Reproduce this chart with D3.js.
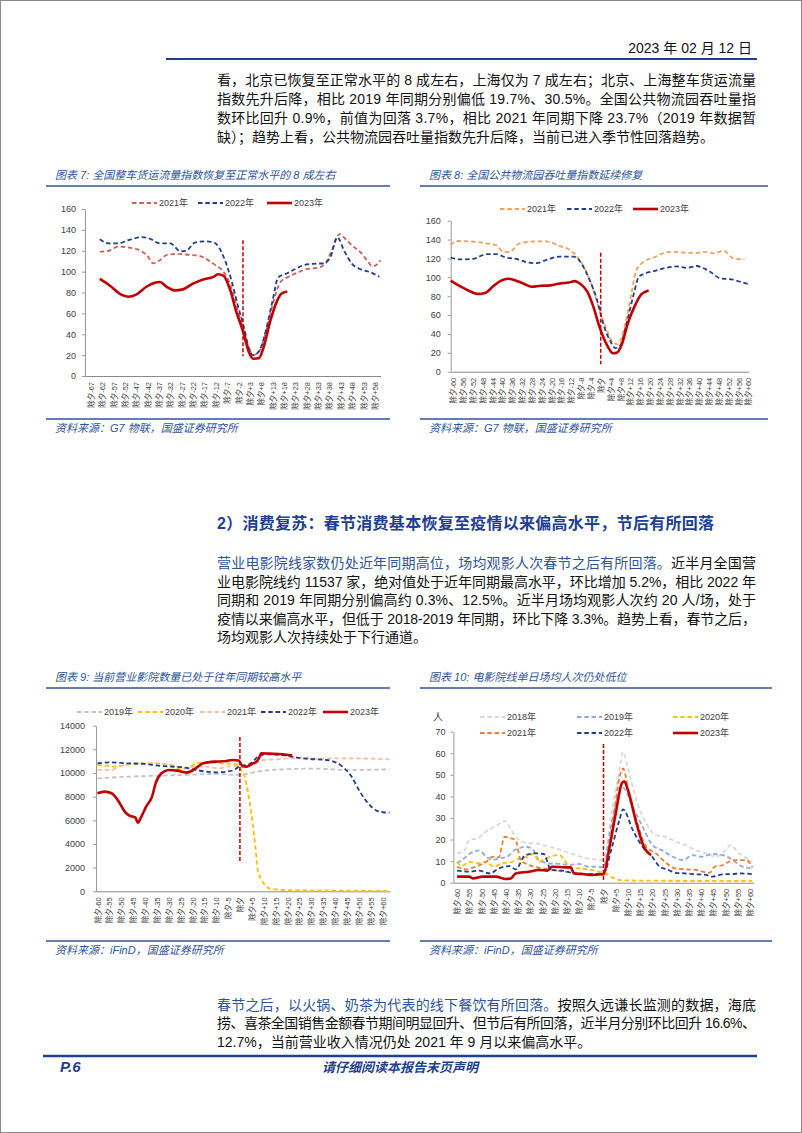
<!DOCTYPE html>
<html><head><meta charset="utf-8">
<script src="https://cdn.jsdelivr.net/npm/d3@7"></script>
<style>html,body{margin:0;padding:0;background:#fff}svg{display:block}text{white-space:pre}</style>
</head><body>
<svg id="page" width="802" height="1133"></svg>
<script>
// ================= DATA =================
// Chart 7: 全国整车货运流量指数 (days relative to 除夕)
const c7Labels = ["除夕-67","除夕-62","除夕-57","除夕-52","除夕-47","除夕-42","除夕-37","除夕-32","除夕-27","除夕-22","除夕-17","除夕-12","除夕-7","除夕-2","除夕+3","除夕+8","除夕+13","除夕+18","除夕+23","除夕+28","除夕+33","除夕+38","除夕+43","除夕+48","除夕+53","除夕+58"];
const c7YTicks = [0,20,40,60,80,100,120,140,160];
const c7Days2021 = [-63,-59,-55,-50,-45,-42,-39.5,-36.5,-33.5,-29,-23,-20,-16,-12,-9,-6,-3,0,2.5,4.5,7.5,10.5,13.5,16.5,19.5,24,28,32.5,36,39,42.5,45,48,51.5,54.5,57,59,60.5];
const c7Vals2021 = [119,120,124,123,120,115,108,111,116,117,116,115.5,112,106,101,90,69,46,28,20,25,46,72,90,94.5,99,102.5,103.5,107,120,136,131.5,125,119,111,105,107,111];
const c7Days2022 = [-63,-59,-55,-50,-44.5,-41,-36.5,-32,-27.5,-25,-21,-16.5,-12.5,-8.5,-5,-2,0.5,2.5,4.5,7,10,13,15.5,19.5,23,26.5,31,35.5,38.5,41.5,44.5,48,51.5,56,60];
const c7Vals2022 = [131,127,127,130.5,133,131.5,127,127,119.5,120,128,129,127.5,114,91,65.5,46,27,20,23.5,43,72,94.5,98.5,102.5,106,107.5,108,114,133,120,107.5,102.5,99.5,95];
const c7Days2023 = [-63,-58.5,-54,-50.5,-47,-42.5,-38.5,-36.5,-33.5,-30,-26.5,-22,-17.5,-13,-11,-8.5,-5.5,-3,0,2.5,4.5,7,9,12,15,17,19.5];
const c7Vals2023 = [93,86.5,78.5,76,78,85.5,89.5,90,85.5,82,83,88.5,92.5,95,97.5,96,81.5,62,43,23.5,16.5,17,27,52.5,72,79,81];
const c7Marker = [130, 19];

// Chart 8: 全国公共物流园吞吐量指数
const c8Labels = ["除夕-60","除夕-56","除夕-52","除夕-48","除夕-44","除夕-40","除夕-36","除夕-32","除夕-28","除夕-24","除夕-20","除夕-16","除夕-12","除夕-8","除夕-4","除夕","除夕+4","除夕+8","除夕+12","除夕+16","除夕+20","除夕+24","除夕+28","除夕+32","除夕+36","除夕+40","除夕+44","除夕+48","除夕+52","除夕+56","除夕+60"];
const c8YTicks = [0,20,40,60,80,100,120,140,160];
const c8Days2021 = [-61,-58.5,-53,-46.5,-42.5,-39.5,-37,-33,-26,-22,-16.5,-12.5,-9,-5.5,-3,-0.5,2.5,5,7,10,12.5,14.5,17.5,21.5,25.5,29.5,35,39,43,46,50,54,58.5];
const c8Vals2021 = [134,138.5,138,136,134,127,127,136,138,138,133,129,120,104,86.5,65.5,44,31,29,51,83,107.5,116.5,121,125.5,127,126,126,127,125.5,128,120,119];
const c8Days2022 = [-61,-57.5,-52,-46.5,-42.5,-38.5,-34.5,-30,-26,-22,-16.5,-11,-7,-4.5,-1.5,1,4,6,8,10.5,13.5,15.5,18,21.5,25.5,31,35,39,41.5,44.5,48.5,52.5,56.5,60];
const c8Vals2022 = [121,119,119.5,124.5,124.5,121,119.5,116,115,118.5,122,122,111,97,76,51,32,25,28,51,83,100.5,104,106.5,109.5,111.5,110,112,110,106,99,98,95.5,93];
const c8Days2023 = [-61,-57.5,-53,-50,-47,-43.5,-40.5,-37.5,-35,-31.5,-28,-24.5,-20.5,-16.5,-13,-10.5,-8.5,-5.5,-3,-0.5,2.5,5,6.5,8.5,11,14,16.5,19.5];
const c8Vals2023 = [96.5,91,85,82.5,83.5,91,96.5,98.5,97,93.5,90,91,91.5,93.5,94.5,96,93.5,85,69,47.5,28.5,19.5,20,28.5,51,70.5,82,86];
const c8Marker = [126, 8];

// Chart 9: 营业影院数量
const c9Labels = ["除夕-60","除夕-55","除夕-50","除夕-45","除夕-40","除夕-35","除夕-30","除夕-25","除夕-20","除夕-15","除夕-10","除夕-5","除夕","除夕+5","除夕+10","除夕+15","除夕+20","除夕+25","除夕+30","除夕+35","除夕+40","除夕+45","除夕+50","除夕+55","除夕+60"];
const c9YTicks = [0,2000,4000,6000,8000,10000,12000,14000];
const c9Days2019 = [-60,-52,-38,-24,-10,0,4,9,18,32,46,63];
const c9Vals2019 = [9550,9640,9750,9830,9920,9830,9980,10170,10310,10370,10260,10310];
const c9Days2020 = [-60,-56,-52,-48,-42,-35,-29,-25,-21,-17,-12,-7,-1.5,0.5,2,3.5,5,6.5,7.5,10,12.5,18,32,63];
const c9Vals2020 = [10680,10600,10540,10680,10820,10820,10540,10310,10540,10880,10880,10820,10740,10260,9700,8290,6310,3780,1800,680,250,110,60,40];
const c9Days2021 = [-60,-54,-50.5,-45.5,-38,-31,-26.5,-22.5,-18,-14,-8.5,-3,1.5,5.5,10,15.5,25,32,46,63];
const c9Vals2021 = [10260,10260,10600,10770,10820,10770,10540,10400,10600,10540,10400,10600,10480,10680,11100,11160,11300,11220,11240,11160];
const c9Days2022 = [-60,-54.5,-47.5,-40.5,-33.5,-28,-24,-19.5,-15.5,-10,-5.5,-2,0,3,5.5,7.5,11,18,24,29.5,36.5,40.5,44,47,50.5,54,57.5,60.5,63];
const c9Vals2022 = [10820,10900,10820,10770,10600,10540,10480,10310,10150,10060,10120,10310,10600,10680,10960,11380,11580,11520,11300,11190,11100,10880,10400,9700,8430,7440,6820,6680,6650];
const c9Days2023 = [-60,-57,-54,-51,-48.5,-46.5,-44,-43,-41.5,-39.5,-37,-35.5,-33,-30,-26.5,-22.5,-19.5,-15.5,-11,-7,-3,-0.5,1,3,5,7,8,9,12.5,18,22];
const c9Vals2023 = [8290,8430,8290,7580,6740,6400,6230,5800,6310,7160,8000,9130,9980,10260,10200,10030,10260,10820,10960,10990,11100,11050,10600,10540,10770,10960,11240,11670,11640,11580,11470];
const c9Marker = [13040, 2390];

// Chart 10: 电影院线单日场均人次
const c10Labels = c9Labels.slice();
const c10YTicks = [0,10,20,30,40,50,60,70];
const c10Days2018 = [-60,-57,-55,-51.5,-49,-46,-43.5,-40.5,-38.5,-36.5,-34.5,-32,-27.5,-23.5,-19.5,-15.5,-11.5,-7,-3,0,3.5,6.5,8,10.5,13.5,17.5,21.5,25.5,29.5,33.5,38,42,46,50,52,55.5,59.5,61];
const c10Vals2018 = [13.6,15,19.8,20.6,23,25.2,26.7,28.7,26,22,19.8,18.5,18.2,17,16,14.4,12.8,11.3,10.8,10.5,33.7,52,60.5,50.7,38.3,27.5,22,21.3,19,17.5,15,13.6,12,15,17.5,13.6,10.8,9.7];
const c10Days2019 = [-60,-58,-55,-51,-48,-45.5,-43,-39.5,-36.5,-34.5,-32,-29,-26.5,-22.5,-18,-14,-10,-6,-2,0,3,6.5,8,12,16,20,24,28.5,32.5,36.5,40.5,44.5,49,53,57,61];
const c10Vals2019 = [9,10.5,13.3,15,12,10.5,11.3,12,15,16,16.7,15.5,10.5,9,8.7,8.2,8.7,7.4,7.4,7.1,26,42,44,35,26,17.5,15,12,10.5,12.8,12,13.3,12.8,10.5,7.4,6.6];
const c10Days2020 = [-60,-58,-55,-51.5,-48,-45,-41.5,-37.5,-34.5,-31,-28.5,-26.5,-23.5,-21,-18,-16,-14,-10,-6,-2,1,3.5,6.5,13,61];
const c10Vals2020 = [9.7,7.7,9.7,9,9.7,7.4,9,9.7,11.3,12,13.6,9.7,11.3,12.4,12.8,10.5,7.1,6.6,6.2,5.1,4.3,2.5,1.2,1,0.8];
const c10Days2021 = [-60,-56.5,-52.5,-48,-45.5,-43,-40.5,-38,-36,-34,-30.5,-25,-21,-15.5,-10,-4.5,0,3.5,7,8,10.5,13.5,17.5,21.5,25.5,29.5,33.5,38,40.5,43.5,45.5,49,51.5,54,58.5,61];
const c10Vals2021 = [7.4,6.2,7.4,9.7,12,11.7,21.3,20.6,19.8,10.5,8.2,6.6,5.9,5.1,4.3,3.6,3.6,26,50.7,53,41.4,29,16.7,13.6,9.3,6.6,6.2,5.9,5.1,4.6,7.4,8.2,9.7,10.5,10.5,7.1];
const c10Days2022 = [-60,-55,-51,-46.5,-43,-38.5,-36,-32,-27.5,-24.5,-21.5,-17,-11.5,-6,0,3.5,6.5,8,12,16,20,23,26,29.5,33.5,38,42,44.5,49,53,55.5,61];
const c10Vals2022 = [5.6,5.1,5.6,4.3,6.6,7.7,6.2,12.8,13.6,13.3,5.9,5.6,4.3,4,4.3,16.7,29,34,24.4,16.7,12,7.4,6.2,4.6,4.3,3.9,3.6,2.8,3.9,4,4.3,4];
const c10Days2023 = [-60,-55,-53.5,-49.5,-44,-40,-38,-36,-30.5,-26.5,-23,-21,-15.5,-13.5,-12,-8.5,-4.5,-1,0,2.5,5,7.5,8.5,10,13.5,16.5,19.5];
const c10Vals2023 = [2.8,2.8,2,2.8,2.8,1.7,2,4.3,5.1,5.9,5.6,7.4,7.1,7.1,4.3,4,3.6,3.9,4,16.7,32,46,47,43,27.5,16.7,12.8];
const c10Marker = [64.3, 0.5];

// ================= STYLE =================
const FONT = "'Liberation Sans','Noto Sans CJK SC',sans-serif";
const NAVY = "#1F3F8F";
const TBLUE = "#2F5597";
const RED = "#C00000";
const DARK = "#203E8C";

const svg = d3.select("#page");
svg.append("rect").attr("x",0.5).attr("y",0.5).attr("width",801).attr("height",1132).attr("fill","#fff").attr("stroke","#8a8a8a");

function txt(x, y, s, o = {}) {
  return svg.append("text").attr("x", x).attr("y", y).text(s)
    .attr("font-family", o.family || FONT).attr("font-size", o.size || 14)
    .attr("fill", o.fill || "#111").attr("font-weight", o.weight || "normal")
    .attr("font-style", o.style || "normal").attr("text-anchor", o.anchor || "start");
}
function hline(x1, x2, y, w, c) {
  svg.append("line").attr("x1", x1).attr("x2", x2).attr("y1", y).attr("y2", y).attr("stroke", c).attr("stroke-width", w);
}
function paraLine(y, segs, justify) {
  const t = svg.append("text").attr("x", 217).attr("y", y).attr("font-family", FONT).attr("font-size", 14);
  segs.forEach(s => t.append("tspan").attr("fill", s[1] || "#111").text(s[0]));
  if (justify) t.attr("textLength", 539).attr("lengthAdjust", "spacing");
}

// ================= HEADER =================
txt(752, 53, "2023 年 02 月 12 日", {size: 14, anchor: "end", fill: "#111"});
hline(166, 757, 59, 2, NAVY);

const p1 = [
  "看，北京已恢复至正常水平的 8 成左右，上海仅为 7 成左右；北京、上海整车货运流量",
  "指数先升后降，相比 2019 年同期分别偏低 19.7%、30.5%。全国公共物流园吞吐量指",
  "数环比回升 0.9%，前值为回落 3.7%，相比 2021 年同期下降 23.7%（2019 年数据暂",
  "缺）；趋势上看，公共物流园吞吐量指数先升后降，当前已进入季节性回落趋势。"
];
[85, 104, 123, 142].forEach((y, i) => paraLine(y, [[p1[i]]], i < 3));

// ================= CHART HELPER =================
function drawChart(c) {
  const g = svg.append("g");
  const x = d3.scaleLinear().domain(c.xDomain).range(c.xRange);
  const y = d3.scaleLinear().domain(c.yDomain).range(c.yRange);

  // title & rules
  txt(c.box[0] + 9, c.titleY, c.title, {size: 11, style: "italic", fill: TBLUE});
  hline(c.box[0], c.box[1], c.titleY + 7, 1.5, TBLUE);
  hline(c.box[0], c.box[1], c.srcLineY, 1.5, TBLUE);
  txt(c.box[0] + 9, c.srcLineY + 13, c.source, {size: 11, style: "italic", fill: TBLUE});

  // y axis
  const ya = g.append("g").attr("transform", `translate(${c.xRange[0]},0)`)
    .call(d3.axisLeft(y).tickValues(c.yTicks).tickSize(3).tickSizeOuter(0).tickPadding(c.yPad || 6).tickFormat(d3.format("d")));
  ya.select(".domain").attr("stroke", "#9a9a9a");
  ya.selectAll(".tick line").attr("stroke", "#9a9a9a");
  ya.selectAll("text").attr("font-size", 9).attr("fill", "#404040").attr("font-family", FONT);

  // x axis
  const days = c.labels.map(l => l === "除夕" ? 0 : +l.slice(2));
  const xa = g.append("g").attr("transform", `translate(0,${c.yRange[0]})`)
    .call(d3.axisBottom(x).tickValues(days).tickSize(0).tickSizeOuter(0).tickFormat((d, i) => c.labels[i]));
  xa.select(".domain").attr("stroke", "#8a8a8a");
  xa.selectAll("text").attr("font-size", 7.5).attr("fill", "#404040").attr("font-family", FONT)
    .attr("transform", "rotate(-90)").attr("text-anchor", "end").attr("x", -6).attr("y", 0).attr("dy", "0.35em");

  // series
  const line = d3.line().x(d => x(d[0])).y(d => y(d[1])).curve(d3.curveMonotoneX);
  c.series.forEach(s => {
    g.append("path").datum(s.days.map((d, i) => [d, s.vals[i]]))
      .attr("d", line).attr("fill", "none").attr("stroke", s.color)
      .attr("stroke-width", s.solid ? 2.6 : 1.8)
      .attr("stroke-dasharray", s.solid ? null : "4.5,2.8")
      .attr("stroke-linejoin", "round");
  });

  // spring festival marker
  g.append("line").attr("x1", x(0)).attr("x2", x(0)).attr("y1", y(c.marker[0])).attr("y2", y(c.marker[1]))
    .attr("stroke", RED).attr("stroke-width", 1.5).attr("stroke-dasharray", "4,2");

  // legend
  c.legend.forEach(L => {
    const s = c.series.find(q => q.name === L.name);
    g.append("line").attr("x1", L.x).attr("x2", L.x + 25).attr("y1", L.y).attr("y2", L.y)
      .attr("stroke", s.color).attr("stroke-width", s.solid ? 2.6 : 1.8)
      .attr("stroke-dasharray", s.solid ? null : "4.5,2.8");
    txt(L.x + 27, L.y + 3.3, L.name, {size: 9, fill: "#404040"});
  });
}

// ================= CHART 7 =================
drawChart({
  box: [46, 390], titleY: 179, srcLineY: 419,
  title: "图表 7: 全国整车货运流量指数恢复至正常水平的 8 成左右",
  source: "资料来源：G7 物联，国盛证券研究所",
  xDomain: [-69.5, 60.5], xRange: [85, 380.5],
  yDomain: [0, 160], yRange: [376, 209], yTicks: c7YTicks, labels: c7Labels,
  marker: c7Marker,
  series: [
    {name: "2021年", days: c7Days2021, vals: c7Vals2021, color: "#CF5F5B"},
    {name: "2022年", days: c7Days2022, vals: c7Vals2022, color: DARK},
    {name: "2023年", days: c7Days2023, vals: c7Vals2023, color: RED, solid: true}
  ],
  legend: [{name: "2021年", x: 132, y: 203}, {name: "2022年", x: 198, y: 203}, {name: "2023年", x: 267, y: 203}]
});

// ================= CHART 8 =================
drawChart({
  box: [420, 768], titleY: 179, srcLineY: 419,
  title: "图表 8: 全国公共物流园吞吐量指数延续修复",
  source: "资料来源：G7 物联，国盛证券研究所",
  xDomain: [-61, 60.3], xRange: [450.7, 749], yPad: 7,
  yDomain: [0, 160], yRange: [371.7, 220.7], yTicks: c8YTicks, labels: c8Labels,
  marker: c8Marker,
  series: [
    {name: "2021年", days: c8Days2021, vals: c8Vals2021, color: "#F4A15D"},
    {name: "2022年", days: c8Days2022, vals: c8Vals2022, color: DARK},
    {name: "2023年", days: c8Days2023, vals: c8Vals2023, color: RED, solid: true}
  ],
  legend: [{name: "2021年", x: 500, y: 209}, {name: "2022年", x: 567, y: 209}, {name: "2023年", x: 633, y: 209}]
});

// ================= SECTION 2 TEXT =================
txt(217, 529, "2）消费复苏：春节消费基本恢复至疫情以来偏高水平，节后有所回落", {size: 16, weight: "bold", fill: NAVY})
  .attr("textLength", 497).attr("lengthAdjust", "spacing");
paraLine(568, [["营业电影院线家数仍处近年同期高位，场均观影人次春节之后有所回落。", TBLUE], ["近半月全国营"]], true);
paraLine(587, [["业电影院线约 11537 家，绝对值处于近年同期最高水平，环比增加 5.2%，相比 2022 年"]], true);
paraLine(605, [["同期和 2019 年同期分别偏高约 0.3%、12.5%。近半月场均观影人次约 20 人/场，处于"]], true);
paraLine(623.5, [["疫情以来偏高水平，但低于 2018-2019 年同期，环比下降 3.3%。趋势上看，春节之后，"]], true);
paraLine(642, [["场均观影人次持续处于下行通道。"]], false);

// ================= CHART 9 =================
drawChart({
  box: [46, 390], titleY: 681, srcLineY: 941,
  title: "图表 9: 当前营业影院数量已处于往年同期较高水平",
  source: "资料来源：iFinD，国盛证券研究所",
  xDomain: [-60.6, 63.2], xRange: [96, 390], yPad: 8,
  yDomain: [0, 14000], yRange: [891.3, 725.7], yTicks: c9YTicks, labels: c9Labels,
  marker: c9Marker,
  series: [
    {name: "2019年", days: c9Days2019, vals: c9Vals2019, color: "#C4C4C4"},
    {name: "2020年", days: c9Days2020, vals: c9Vals2020, color: "#FFC000"},
    {name: "2021年", days: c9Days2021, vals: c9Vals2021, color: "#F6BFA0"},
    {name: "2022年", days: c9Days2022, vals: c9Vals2022, color: DARK},
    {name: "2023年", days: c9Days2023, vals: c9Vals2023, color: RED, solid: true}
  ],
  legend: [{name: "2019年", x: 77, y: 712}, {name: "2020年", x: 138, y: 712}, {name: "2021年", x: 200, y: 712},
           {name: "2022年", x: 261, y: 712}, {name: "2023年", x: 323, y: 712}]
});

// ================= CHART 10 =================
drawChart({
  box: [420, 772], titleY: 681, srcLineY: 941,
  title: "图表 10: 电影院线单日场均人次仍处低位",
  source: "资料来源：iFinD，国盛证券研究所",
  xDomain: [-61.5, 61.5], xRange: [453.4, 753.6], yPad: 5,
  yDomain: [0, 70], yRange: [882.7, 731.7], yTicks: c10YTicks, labels: c10Labels,
  marker: c10Marker,
  series: [
    {name: "2018年", days: c10Days2018, vals: c10Vals2018, color: "#D9D9D9"},
    {name: "2019年", days: c10Days2019, vals: c10Vals2019, color: "#8FAADC"},
    {name: "2020年", days: c10Days2020, vals: c10Vals2020, color: "#FFC000"},
    {name: "2021年", days: c10Days2021, vals: c10Vals2021, color: "#ED7D31"},
    {name: "2022年", days: c10Days2022, vals: c10Vals2022, color: DARK},
    {name: "2023年", days: c10Days2023, vals: c10Vals2023, color: RED, solid: true}
  ],
  legend: [{name: "2018年", x: 480, y: 717}, {name: "2019年", x: 577, y: 717}, {name: "2020年", x: 673, y: 717},
           {name: "2021年", x: 480, y: 733}, {name: "2022年", x: 577, y: 733}, {name: "2023年", x: 673, y: 733}]
});
txt(438, 720.5, "人", {size: 10, anchor: "middle", fill: "#404040"});

// ================= SECTION 3 TEXT =================
paraLine(1010, [["春节之后，以火锅、奶茶为代表的线下餐饮有所回落。", TBLUE], ["按照久远谦长监测的数据，海底"]], true);
paraLine(1028, [["捞、喜茶全国销售金额春节期间明显回升、但节后有所回落，近半月分别环比回升 16.6%、"]], true);
paraLine(1047, [["12.7%，当前营业收入情况仍处 2021 年 9 月以来偏高水平。"]], false);

// ================= FOOTER =================
hline(43, 757, 1056, 2.5, NAVY);
txt(60, 1072, "P.6", {size: 15, weight: "bold", style: "italic", fill: NAVY});
txt(400, 1072, "请仔细阅读本报告末页声明", {size: 13, weight: "bold", style: "italic", fill: NAVY, anchor: "middle"});
</script>
</body></html>
